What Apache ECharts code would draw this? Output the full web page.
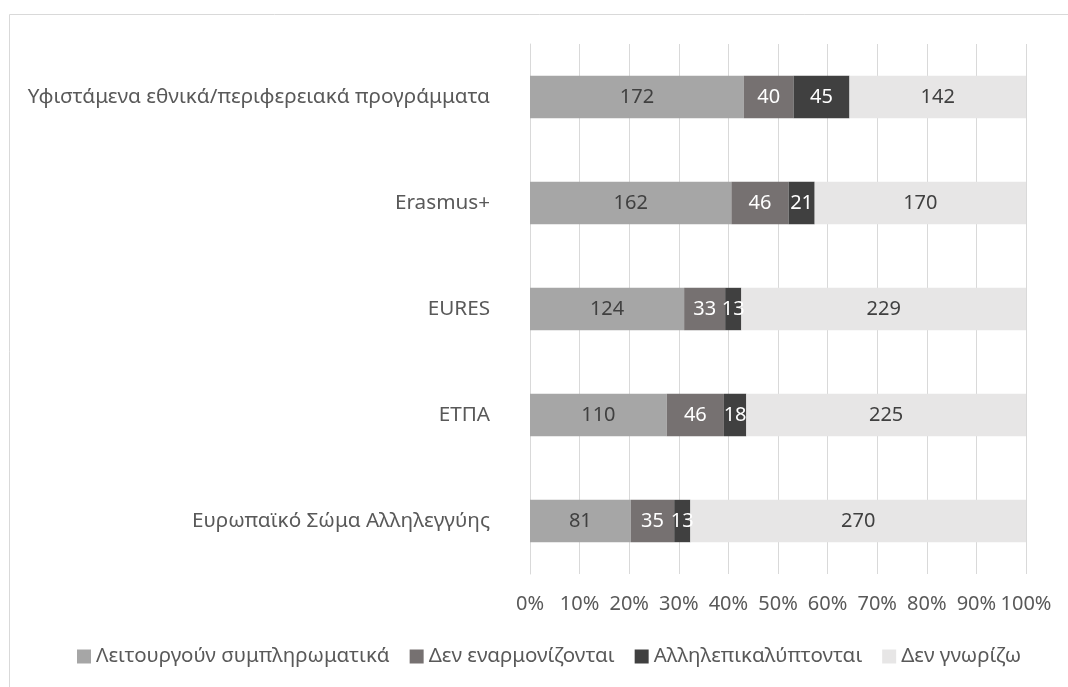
<!DOCTYPE html>
<html>
<head>
<meta charset="utf-8">
<script src="https://cdn.jsdelivr.net/npm/echarts@6/dist/echarts.min.js"></script>
<style>
    html, body { margin: 0; padding: 0; background: #fff; }
    #chart { width: 1068px; height: 687px; }
</style>
</head>
<body>
<div id="chart"></div>
<script>
// categories bottom -> top (as the value axis draws them)
const categories = [
    'Ευρωπαϊκό Σώμα Αλληλεγγύης',
    'ΕΤΠΑ',
    'EURES',
    'Erasmus+',
    'Υφιστάμενα εθνικά/περιφερειακά προγράμματα'
];
const seriesNames = [
    'Λειτουργούν συμπληρωματικά',
    'Δεν εναρμονίζονται',
    'Αλληλεπικαλύπτονται',
    'Δεν γνωρίζω'
];
const complementary = [81, 110, 124, 162, 172];
const notAligned = [35, 46, 33, 46, 40];
const overlapping = [13, 18, 13, 21, 45];
const dontKnow = [270, 225, 229, 170, 142];
const tickLabels = ['0%', '10%', '20%', '30%', '40%', '50%', '60%', '70%', '80%', '90%', '100%'];

const colors = ['#a6a6a6', '#767171', '#404040', '#e7e6e6'];
const labelColors = ['#404040', '#ffffff', '#ffffff', '#404040'];
const FONT = 'Noto Sans';
const FS = 20;

let raw = [complementary, notAligned, overlapping, dontKnow];
let totals = categories.map((c, i) => raw.reduce((s, arr) => s + arr[i], 0));

let series = raw.map((arr, k) => ({
    name: seriesNames[k],
    type: 'bar',
    stack: 'total',
    barCategoryGap: '60%',
    itemStyle: { color: colors[k] },
    label: {
        show: true,
        position: 'inside',
        color: labelColors[k],
        fontFamily: FONT,
        fontSize: FS,
        formatter: p => arr[p.dataIndex]
    },
    data: arr.map((v, i) => v / totals[i] * 100)
}));

let chart = echarts.init(document.getElementById('chart'));
chart.setOption({
    animation: false,
    color: colors,
    graphic: [{
        type: 'rect',
        shape: { x: 9.5, y: 14.5, width: 1100, height: 700 },
        style: { fill: 'none', stroke: '#d9d9d9', lineWidth: 1 },
        silent: true
    }],
    grid: { left: 530, right: 42, top: 44, bottom: 113 },
    legend: {
        bottom: 15,
        left: 72,
        itemWidth: 14,
        itemHeight: 14,
        itemGap: 20,
        icon: 'rect',
        textStyle: { fontFamily: FONT, fontSize: 20.5, color: '#595959' },
        data: seriesNames
    },
    xAxis: {
        type: 'value',
        min: 0,
        max: 100,
        interval: 10,
        axisLine: { show: false },
        axisTick: { show: false },
        splitLine: { lineStyle: { color: '#d9d9d9', width: 1 } },
        axisLabel: {
            margin: 20,
            fontFamily: FONT,
            fontSize: FS,
            color: '#595959',
            formatter: v => tickLabels[Math.round(v / 10)]
        }
    },
    yAxis: {
        type: 'category',
        data: categories,
        axisLine: { show: true, lineStyle: { color: '#d9d9d9' } },
        axisTick: { show: false },
        axisLabel: {
            margin: 40,
            fontFamily: FONT,
            fontSize: 20.7,
            color: '#595959'
        }
    },
    series: series
});
</script>
</body>
</html>
